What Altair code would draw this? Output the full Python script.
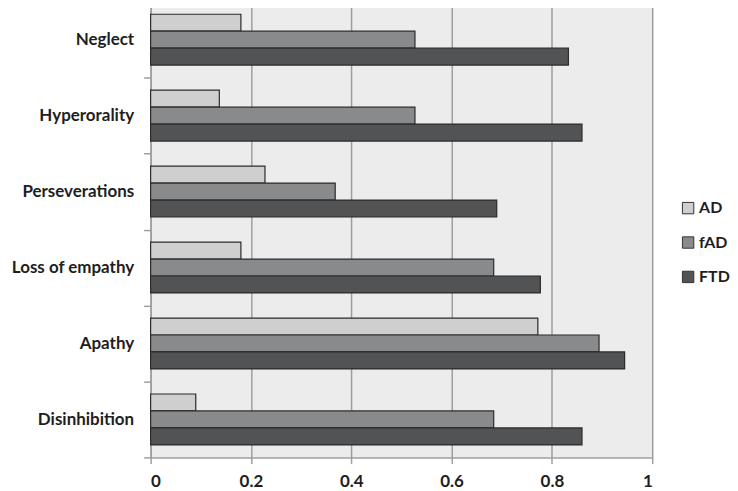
import altair as alt
import pandas as pd

categories = ["Neglect", "Hyperorality", "Perseverations", "Loss of empathy", "Apathy", "Disinhibition"]
groups = ["AD", "fAD", "FTD"]
ad = [0.18, 0.137, 0.228, 0.18, 0.772, 0.09]
fad = [0.527, 0.527, 0.368, 0.684, 0.894, 0.684]
ftd = [0.833, 0.86, 0.69, 0.777, 0.945, 0.86]
colors = ["#cfcfcf", "#898a8c", "#525355"]
x_ticks = [0, 0.2, 0.4, 0.6, 0.8, 1]

rows = []
for g, vals in zip(groups, [ad, fad, ftd]):
    for c, v in zip(categories, vals):
        rows.append({"category": c, "group": g, "value": v})
df = pd.DataFrame(rows)

axis_gray = "#9e9e9e"
text_col = "#1e1e1e"

chart = alt.Chart(df).mark_bar(stroke="#2b2b2b", strokeWidth=1.2).encode(
    x=alt.X(
        "value:Q",
        scale=alt.Scale(domain=[0, 1], nice=False),
        axis=alt.Axis(
            values=x_ticks, format="~g", title=None, grid=True,
            gridColor=axis_gray, gridWidth=1.5, tickSize=6, tickColor=axis_gray,
            tickWidth=1.5, domainColor=axis_gray, domainWidth=1.5,
            labelFont="Lato", labelFontWeight="bold", labelFontSize=17,
            labelPadding=10, labelColor=text_col,
        ),
    ),
    y=alt.Y(
        "category:N", sort=categories,
        scale=alt.Scale(paddingInner=0, paddingOuter=0),
        axis=alt.Axis(
            title=None, tickBand="extent", tickSize=7, tickColor=axis_gray,
            tickWidth=1.5, domainColor=axis_gray, domainWidth=1.5, grid=False,
            labelFont="Lato", labelFontWeight="bold", labelFontSize=17,
            labelPadding=10, labelColor=text_col, minExtent=143, maxExtent=143,
        ),
    ),
    yOffset=alt.YOffset("group:N", sort=groups,
                        scale=alt.Scale(paddingInner=0, paddingOuter=0.74)),
    color=alt.Color(
        "group:N", sort=groups,
        scale=alt.Scale(domain=groups, range=colors),
        legend=alt.Legend(
            title=None, orient="none", legendX=531, legendY=199,
            symbolType="square", symbolSize=130, symbolStrokeColor="#333333",
            symbolStrokeWidth=1, labelFont="Lato", labelFontWeight="bold",
            labelFontSize=16, labelColor=text_col, labelOffset=3,
            rowPadding=18.5, padding=0,
        ),
    ),
).properties(
    width=503, height=457,
    padding={"left": 0, "top": -16, "right": 0, "bottom": 0},
).configure_view(fill="#ececec", strokeWidth=0)

chart.save("out.html", embed_options={"renderer": "svg", "actions": False})
